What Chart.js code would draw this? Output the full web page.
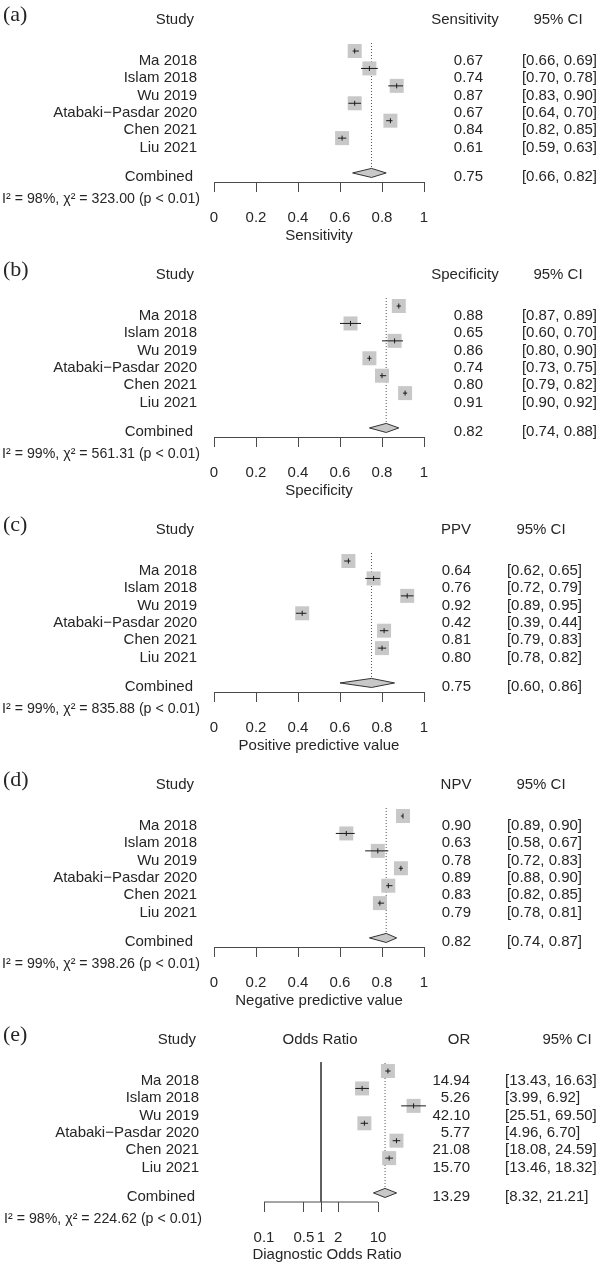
<!DOCTYPE html>
<html>
<head>
<meta charset="utf-8">
<script src="https://cdn.jsdelivr.net/npm/chart.js@4.4.1/dist/chart.umd.min.js"></script>
<style>
  html, body { margin: 0; padding: 0; background: #fff; }
  #wrap { position: relative; width: 601px; height: 1266px; overflow: hidden; }
  .panel { position: absolute; left: 0; width: 601px; height: 255px; }
</style>
</head>
<body>
<div id="wrap"></div>
<script>
// studies shared by every panel
const studies = ['Ma 2018', 'Islam 2018', 'Wu 2019', 'Atabaki\u2212Pasdar 2020', 'Chen 2021', 'Liu 2021'];

// (a) sensitivity
const sensEst = [0.67, 0.74, 0.87, 0.67, 0.84, 0.61];
const sensLo  = [0.66, 0.70, 0.83, 0.64, 0.82, 0.59];
const sensHi  = [0.69, 0.78, 0.90, 0.70, 0.85, 0.63];
const sensComb = [0.75, 0.66, 0.82];

// (b) specificity
const specEst = [0.88, 0.65, 0.86, 0.74, 0.80, 0.91];
const specLo  = [0.87, 0.60, 0.80, 0.73, 0.79, 0.90];
const specHi  = [0.89, 0.70, 0.90, 0.75, 0.82, 0.92];
const specComb = [0.82, 0.74, 0.88];

// (c) PPV
const ppvEst = [0.64, 0.76, 0.92, 0.42, 0.81, 0.80];
const ppvLo  = [0.62, 0.72, 0.89, 0.39, 0.79, 0.78];
const ppvHi  = [0.65, 0.79, 0.95, 0.44, 0.83, 0.82];
const ppvComb = [0.75, 0.60, 0.86];

// (d) NPV
const npvEst = [0.90, 0.63, 0.78, 0.89, 0.83, 0.79];
const npvLo  = [0.89, 0.58, 0.72, 0.88, 0.82, 0.78];
const npvHi  = [0.90, 0.67, 0.83, 0.90, 0.85, 0.81];
const npvComb = [0.82, 0.74, 0.87];

// (e) diagnostic odds ratio
const orEst = [14.94, 5.26, 42.10, 5.77, 21.08, 15.70];
const orLo  = [13.43, 3.99, 25.51, 4.96, 18.08, 13.46];
const orHi  = [16.63, 6.92, 69.50, 6.70, 24.59, 18.32];
const orComb = [13.29, 8.32, 21.21];

// heterogeneity per panel
const hetI2 = [98, 99, 99, 99, 98];
const hetChi2 = [323.00, 561.31, 835.88, 398.26, 224.62];

// axis ticks
const propTicks = [0, 0.2, 0.4, 0.6, 0.8, 1];
const orTicks = [0.1, 0.5, 1, 2, 10];
const OR_SCALE_MAX = 100; // scale runs past the last tick so the wide CIs stay visible

// row layout (rows in data units, reversed y scale)
const rows = studies.map((s, i) => i + 1);
const COMB_ROW = 8;
const Y_MIN = -1.93, Y_MAX = 8.52;
const HEAD_ROW = -0.78;
const REF_TOP = 0.54;
const DIAMOND_H = 0.26;

const TEXT = '#262626';
const AXIS = '#4a4a4a';
const BOX = '#c8c8c8';
const FAM = '"Liberation Sans", Arial, Helvetica, sans-serif';
const FONT = '15px ' + FAM;

const panels = [
  { tag: '(a)', est: sensEst, lo: sensLo, hi: sensHi, comb: sensComb, head: 'Sensitivity', title: 'Sensitivity',
    log: false, ticks: propTicks, studyRight: 197, valHead: 465, valRight: 483, ciHead: 558, ciRight: 597 },
  { tag: '(b)', est: specEst, lo: specLo, hi: specHi, comb: specComb, head: 'Specificity', title: 'Specificity',
    log: false, ticks: propTicks, studyRight: 197, valHead: 465, valRight: 483, ciHead: 558, ciRight: 597 },
  { tag: '(c)', est: ppvEst, lo: ppvLo, hi: ppvHi, comb: ppvComb, head: 'PPV', title: 'Positive predictive value',
    log: false, ticks: propTicks, studyRight: 197, valHead: 456, valRight: 471, ciHead: 541, ciRight: 582 },
  { tag: '(d)', est: npvEst, lo: npvLo, hi: npvHi, comb: npvComb, head: 'NPV', title: 'Negative predictive value',
    log: false, ticks: propTicks, studyRight: 197, valHead: 456, valRight: 471, ciHead: 541, ciRight: 582 },
  { tag: '(e)', est: orEst, lo: orLo, hi: orHi, comb: orComb, head: 'OR', title: 'Diagnostic Odds Ratio',
    log: true, ticks: orTicks, studyRight: 199, valHead: 459, valRight: 470, ciHead: 567, ciLeft: 505,
    midHead: 'Odds Ratio', titleX: 327 }
];

function tablePlugin(p, k) {
  return {
    id: 'table' + k,
    afterDraw(chart) {
      const ctx = chart.ctx;
      const y = chart.scales.y;
      const headY = y.getPixelForValue(HEAD_ROW);
      const combY = y.getPixelForValue(COMB_ROW);
      ctx.save();
      ctx.fillStyle = TEXT;
      ctx.textBaseline = 'middle';

      ctx.font = '22px "Liberation Serif", "Times New Roman", serif';
      ctx.textAlign = 'left';
      ctx.fillText(p.tag, 3, 15);

      ctx.font = FONT;
      ctx.textAlign = 'right';
      ctx.fillText('Study', p.studyRight - 3, headY);
      studies.forEach((s, i) => {
        const ty = y.getPixelForValue(rows[i]) + 9.5;
        ctx.fillText(s, p.studyRight, ty);
        ctx.fillText(p.est[i].toFixed(2), p.valRight, ty);
      });
      ctx.fillText('Combined', p.studyRight - 4, combY + 4);
      ctx.fillText(p.comb[0].toFixed(2), p.valRight, combY + 4);
      ctx.font = '14.2px ' + FAM;
      ctx.fillText('I\u00b2 = ' + hetI2[k] + '%, \u03c7\u00b2 = ' + hetChi2[k].toFixed(2) + ' (p < 0.01)', p.studyRight + 3, combY + 26);
      ctx.font = FONT;

      ctx.textAlign = 'center';
      ctx.fillText(p.head, p.valHead, headY);
      ctx.fillText('95% CI', p.ciHead, headY);
      if (p.midHead) ctx.fillText(p.midHead, 320, headY);
      if (p.titleX) ctx.fillText(p.title, p.titleX, 235);

      const ci = (a, b) => '[' + a.toFixed(2) + ', ' + b.toFixed(2) + ']';
      ctx.textAlign = p.ciLeft ? 'left' : 'right';
      const cx = p.ciLeft || p.ciRight;
      studies.forEach((s, i) => {
        ctx.fillText(ci(p.lo[i], p.hi[i]), cx, y.getPixelForValue(rows[i]) + 9.5);
      });
      ctx.fillText(ci(p.comb[1], p.comb[2]), cx, combY + 4);
      ctx.restore();
    }
  };
}

const wrap = document.getElementById('wrap');

panels.forEach((p, k) => {
  const div = document.createElement('div');
  div.className = 'panel';
  div.style.top = (k * 255) + 'px';
  const cv = document.createElement('canvas');
  cv.width = 601; cv.height = 255;
  div.appendChild(cv);
  wrap.appendChild(div);

  const tickMin = p.ticks[0];
  const tickMax = p.ticks[p.ticks.length - 1];
  const datasets = [];
  // dotted line at the pooled estimate
  datasets.push({
    type: 'line', data: [{ x: p.comb[0], y: REF_TOP }, { x: p.comb[0], y: COMB_ROW - DIAMOND_H }],
    borderColor: '#555', borderWidth: 1, borderDash: [1, 2], pointRadius: 0, fill: false, order: 7
  });
  if (p.log) {
    // line of no effect
    datasets.push({
      type: 'line', data: [{ x: 1, y: REF_TOP - 0.05 }, { x: 1, y: Y_MAX }],
      borderColor: AXIS, borderWidth: 1, pointRadius: 0, fill: false, order: 7
    });
    // axis baseline only across the ticked range
    datasets.push({
      type: 'line', data: [{ x: tickMin, y: Y_MAX }, { x: tickMax, y: Y_MAX }],
      borderColor: AXIS, borderWidth: 1, pointRadius: 0, fill: false, order: 7
    });
  }
  // grey squares
  datasets.push({
    type: 'scatter', data: p.est.map((v, i) => ({ x: v, y: rows[i] })),
    pointStyle: 'rect', pointRadius: 9.9, backgroundColor: BOX, pointBackgroundColor: BOX,
    borderWidth: 0, pointBorderWidth: 0, order: 5
  });
  // confidence intervals
  p.est.forEach((v, i) => {
    datasets.push({
      type: 'line', data: [{ x: p.lo[i], y: rows[i] }, { x: p.hi[i], y: rows[i] }],
      borderColor: '#1a1a1a', borderWidth: 1, pointRadius: 0, fill: false, order: 4
    });
  });
  // small vertical tick at each estimate
  datasets.push({
    type: 'scatter', data: p.est.map((v, i) => ({ x: v, y: rows[i] })),
    pointStyle: 'line', rotation: 90, pointRadius: 2.5, borderColor: '#1a1a1a', pointBorderColor: '#1a1a1a',
    borderWidth: 1, pointBorderWidth: 1, order: 3
  });
  // pooled diamond
  datasets.push({
    type: 'line',
    data: [
      { x: p.comb[1], y: COMB_ROW }, { x: p.comb[0], y: COMB_ROW - DIAMOND_H },
      { x: p.comb[2], y: COMB_ROW }, { x: p.comb[0], y: COMB_ROW + DIAMOND_H },
      { x: p.comb[1], y: COMB_ROW }
    ],
    borderColor: '#333', borderWidth: 1, backgroundColor: BOX, fill: 'shape', pointRadius: 0, tension: 0, order: 2
  });
  datasets.forEach(d => { d.clip = false; d.showLine = d.type === 'line'; });

  new Chart(cv, {
    type: 'scatter',
    data: { datasets },
    options: {
      responsive: false,
      animation: false,
      events: [],
      devicePixelRatio: 1,
      layout: { autoPadding: false, padding: { left: p.log ? 264 : 214, right: p.log ? 166 : 177, top: 0, bottom: 0 } },
      plugins: { legend: { display: false }, tooltip: { enabled: false } },
      scales: {
        x: {
          type: p.log ? 'logarithmic' : 'linear',
          min: tickMin, max: p.log ? OR_SCALE_MAX : tickMax,
          afterBuildTicks: s => { s.ticks = p.ticks.map(v => ({ value: v })); },
          afterFit: s => { s.height = 73; },
          grid: { display: true, drawOnChartArea: false, drawTicks: true, tickLength: 10, color: AXIS, lineWidth: 1 },
          border: { display: !p.log, color: AXIS, width: 1 },
          ticks: {
            autoSkip: false, maxRotation: 0, minRotation: 0, padding: 17, color: TEXT,
            font: { family: FAM, size: 15 },
            callback: v => String(v)
          },
          title: { display: !p.titleX, text: p.title, color: TEXT, font: { family: FAM, size: 15 }, padding: { top: 0, bottom: 10 } }
        },
        y: { type: 'linear', reverse: true, min: Y_MIN, max: Y_MAX, display: false }
      }
    },
    plugins: [tablePlugin(p, k)]
  });
});
</script>
</body>
</html>
